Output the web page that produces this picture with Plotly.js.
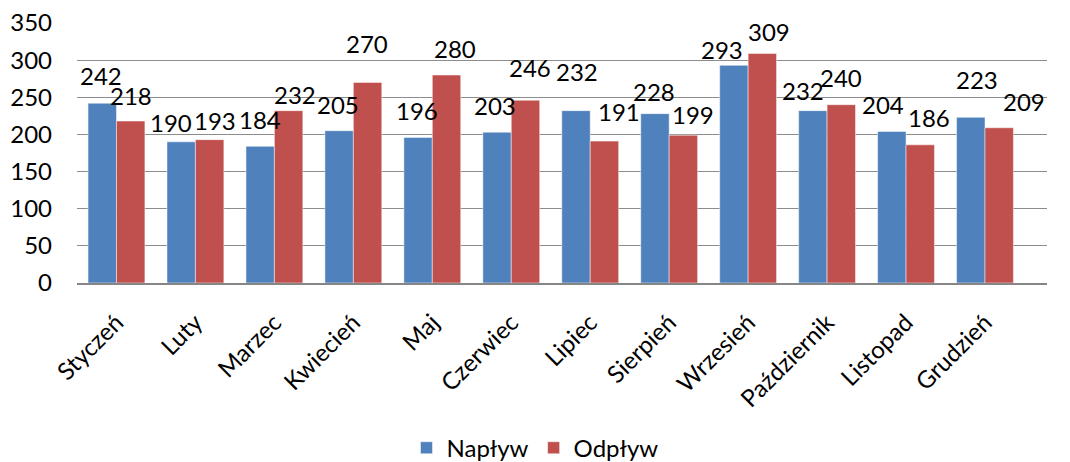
<!DOCTYPE html>
<html>
<head>
<meta charset="utf-8">
<script src="https://cdn.plot.ly/plotly-3.0.1.min.js"></script>
<style>html,body{margin:0;padding:0;background:#fff;}#chart{width:1070px;height:462px;}</style>
</head>
<body>
<div id="chart"></div>
<script>
const months = ["Styczeń","Luty","Marzec","Kwiecień","Maj","Czerwiec","Lipiec","Sierpień","Wrzesień","Październik","Listopad","Grudzień"];
const naplyw = [242,190,184,205,196,203,232,228,293,232,204,223];
const odplyw = [218,193,232,270,280,246,191,199,309,240,186,209];
const seriesNames = ["Napływ","Odpływ"];

// label placement styles (pixel offsets relative to category centre / bar top)
const labelDxA = [-15,-24,-14,-15,-15,-16,-13,-15,-26,-24,-23,-8];
const labelDyA = [28,19,27,26,27,27,39,22,16,20,27,38];
const labelDxB = [15,20,21,14,23,19,29,24,21,14,23,39];
const labelDyB = [26,19,16,39,27,33,30,21,22,27,27,26];

const FONT = "Lato, 'Open Sans', sans-serif";
const FS = 24;
const annotations = [];
months.forEach((m,i)=>{
  annotations.push({x:m, y:naplyw[i], xref:'x', yref:'y', text:String(naplyw[i]), showarrow:false,
    xshift:labelDxA[i], yshift:labelDyA[i], xanchor:'center', yanchor:'middle',
    font:{family:FONT,size:FS,color:'#000'}});
  annotations.push({x:m, y:odplyw[i], xref:'x', yref:'y', text:String(odplyw[i]), showarrow:false,
    xshift:labelDxB[i], yshift:labelDyB[i], xanchor:'center', yanchor:'middle',
    font:{family:FONT,size:FS,color:'#000'}});
});

const data = [
  {type:'bar', name:seriesNames[0], x:months, y:naplyw,
   marker:{color:'#4F81BD', line:{color:'rgba(255,255,255,0.6)', width:0.8}}, hoverinfo:'skip'},
  {type:'bar', name:seriesNames[1], x:months, y:odplyw,
   marker:{color:'#C0504D', line:{color:'rgba(255,255,255,0.6)', width:0.8}}, hoverinfo:'skip'}
];

const layout = {
  width:1070, height:462,
  margin:{l:77, r:23, t:23, b:179},
  paper_bgcolor:'#fff', plot_bgcolor:'#fff',
  font:{family:FONT, size:FS, color:'#000'},
  barmode:'group', bargap:0.28, bargroupgap:0,
  showlegend:true,
  legend:{orientation:'h', x:0.5, xanchor:'center', xref:'container', y:0.03, yref:'container', yanchor:'middle',
          font:{family:FONT,size:FS,color:'#000'}, itemwidth:30, traceorder:'normal'},
  xaxis:{type:'category', tickangle:-45, showgrid:false, zeroline:false, automargin:false,
         showline:true, linecolor:'#868686', linewidth:2, ticks:'', ticklabelstandoff:14,
         tickfont:{family:FONT,size:FS,color:'#000'}, fixedrange:true},
  yaxis:{range:[0,350], dtick:50, tick0:0, showgrid:true, gridcolor:'#8c8c8c', gridwidth:1,
         zeroline:false, showline:false, ticks:'', ticklabelstandoff:24, automargin:false,
         tickfont:{family:FONT,size:FS,color:'#000'}, fixedrange:true},
  annotations:annotations
};

Plotly.newPlot('chart', data, layout, {displayModeBar:false, staticPlot:true});
</script>
</body>
</html>
